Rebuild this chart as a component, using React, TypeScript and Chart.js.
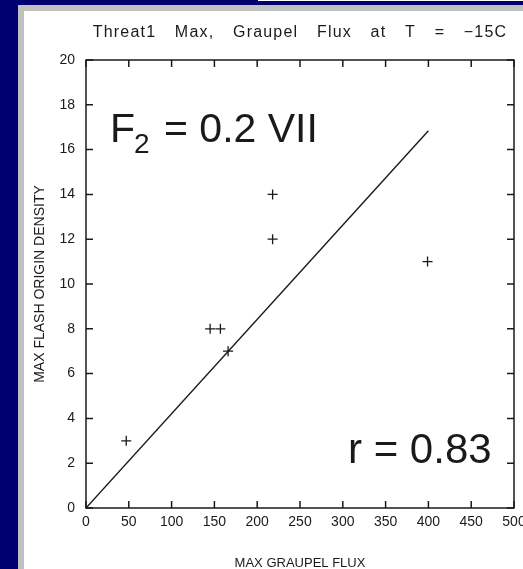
import React, { useEffect, useRef } from "react";
import { Chart, registerables } from "chart.js";

Chart.register(...registerables);

// ---- data ----
const fluxValues = [47, 145, 157, 166, 218, 218, 399];
const densityValues = [3, 8, 8, 7, 12, 14, 11];
const fitFlux = [0, 400];
const fitDensity = [0, 16.84];
const xRange = [0, 500];
const xStep = 50;
const yRange = [0, 20];
const yStep = 2;

const titleText = "Threat1 Max, Graupel Flux at T = \u221215C";
const xTitleText = "MAX GRAUPEL FLUX";
const yTitleText = "MAX FLASH ORIGIN DENSITY";
const fMain = "F";
const fSub = "2";
const fRest = " = 0.2 VII";
const rText = "r = 0.83";

// ---- styles ----
const BLUE = "#000070";
const GRAY = "#c0c0c0";
const INK = "#1a1a1a";
const FONT = '"Liberation Sans", Arial, sans-serif';

const framePlugin = {
  id: "frame",
  afterDatasetsDraw(chart: any) {
    const { ctx, chartArea, scales } = chart;
    const { left, right, top, bottom } = chartArea;
    const x = scales.x;
    const y = scales.y;
    ctx.save();
    ctx.strokeStyle = INK;
    ctx.lineWidth = 1.5;
    ctx.strokeRect(left, top, right - left, bottom - top);
    const tl = 7;
    ctx.beginPath();
    x.ticks.forEach((t: any) => {
      const px = x.getPixelForValue(t.value);
      ctx.moveTo(px, bottom);
      ctx.lineTo(px, bottom - tl);
      ctx.moveTo(px, top);
      ctx.lineTo(px, top + tl);
    });
    y.ticks.forEach((t: any) => {
      const py = y.getPixelForValue(t.value);
      ctx.moveTo(left, py);
      ctx.lineTo(left + tl, py);
      ctx.moveTo(right, py);
      ctx.lineTo(right - tl, py);
    });
    ctx.stroke();

    // title
    ctx.fillStyle = INK;
    ctx.font = `16px ${FONT}`;
    (ctx as any).letterSpacing = "1.2px";
    (ctx as any).wordSpacing = "13px";
    ctx.textAlign = "center";
    ctx.textBaseline = "alphabetic";
    ctx.fillText(titleText, (left + right) / 2, top - 23.3);
    (ctx as any).letterSpacing = "0px";
    (ctx as any).wordSpacing = "0px";

    // annotations
    ctx.textAlign = "left";
    ctx.font = `41px ${FONT}`;
    const fx = left + 24;
    const fy = top + 82;
    ctx.fillText(fMain, fx, fy);
    const wF = ctx.measureText(fMain).width;
    ctx.font = `28px ${FONT}`;
    ctx.fillText(fSub, fx + wF - 1, fy + 11);
    const wS = ctx.measureText(fSub).width;
    ctx.font = `41px ${FONT}`;
    ctx.fillText(fRest, fx + wF + wS + 2, fy);

    ctx.font = `42px ${FONT}`;
    ctx.fillText(rText, left + 262, bottom - 44.7);
    ctx.restore();
  },
};

export default function App() {
  const ref = useRef<HTMLCanvasElement | null>(null);
  useEffect(() => {
    if (!ref.current) return;
    const chart = new Chart(ref.current, {
      type: "scatter",
      data: {
        datasets: [
          {
            type: "line",
            data: fitFlux.map((v, i) => ({ x: v, y: fitDensity[i] })),
            borderColor: INK,
            borderWidth: 1.4,
            pointRadius: 0,
            fill: false,
          } as any,
          {
            data: fluxValues.map((v, i) => ({ x: v, y: densityValues[i] })),
            pointStyle: "cross",
            pointRadius: 5,
            borderColor: INK,
            borderWidth: 1.3,
            backgroundColor: INK,
          },
        ],
      },
      options: {
        responsive: false,
        animation: false,
        devicePixelRatio: window.devicePixelRatio || 1,
        layout: { padding: { top: 49, right: 9, left: 0, bottom: 0 } },
        plugins: {
          legend: { display: false },
          tooltip: { enabled: false },
          title: { display: false },
        },
        scales: {
          x: {
            type: "linear",
            min: xRange[0],
            max: xRange[1],
            grid: { display: false, drawTicks: false },
            border: { display: false },
            ticks: {
              stepSize: xStep,
              color: INK,
              font: { family: FONT, size: 14 },
              padding: 6,
              maxRotation: 0,
              autoSkip: false,
            },
            title: {
              display: true,
              text: xTitleText,
              color: INK,
              font: { family: FONT, size: 13, lineHeight: 1 },
              padding: { top: 0, bottom: -1 },
            },
            afterFit: (s: any) => {
              s.height = 61;
              s.paddingLeft = 0;
              s.paddingRight = 0;
            },
          },
          y: {
            type: "linear",
            min: yRange[0],
            max: yRange[1],
            grid: { display: false, drawTicks: false },
            border: { display: false },
            ticks: {
              stepSize: yStep,
              color: INK,
              font: { family: FONT, size: 14 },
              padding: 11,
              autoSkip: false,
            },
            title: {
              display: true,
              text: yTitleText,
              color: INK,
              font: { family: FONT, size: 14, lineHeight: 1 },
              padding: { top: 9, bottom: 0 },
            },
            afterFit: (s: any) => {
              s.width = 62;
              s.paddingTop = 0;
              s.paddingBottom = 0;
            },
          },
        },
      },
      plugins: [framePlugin],
    });
    return () => chart.destroy();
  }, []);

  return (
    <div
      style={{
        position: "fixed",
        left: 0,
        top: 0,
        width: 523,
        height: 569,
        background: BLUE,
        overflow: "hidden",
      }}
    >
      <div style={{ position: "absolute", left: 258, top: 0, width: 265, height: 1, background: "#ffffff" }} />
      <div style={{ position: "absolute", left: 18, top: 5, right: 0, bottom: 0, background: GRAY }} />
      <div style={{ position: "absolute", left: 24, top: 11, width: 499, height: 558, background: "#ffffff" }}>
        <canvas ref={ref} width={499} height={558} style={{ display: "block", width: 499, height: 558 }} />
      </div>
    </div>
  );
}
